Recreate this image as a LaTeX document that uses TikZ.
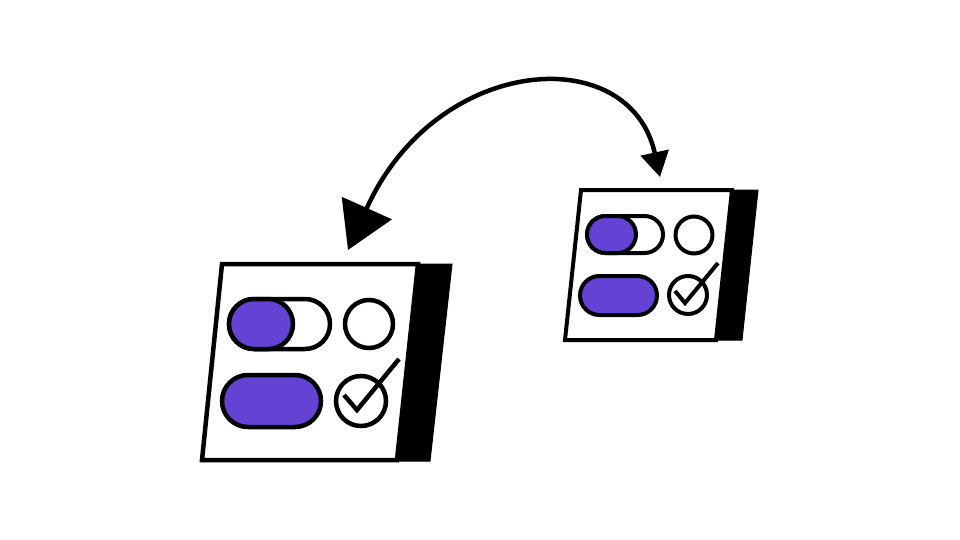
\documentclass[tikz,border=0pt]{standalone}
\usetikzlibrary{arrows.meta}
\definecolor{toggle}{RGB}{99,66,212}
\begin{document}
\begin{tikzpicture}[x=1pt,y=-1pt,
  sideface/.style={fill=black,draw=black,line width=1pt},
  frontface/.style={fill=white,draw=black,line width=4.5pt},
  pill/.style={fill=toggle,draw=black,line width=4.5pt},
  track/.style={fill=white,draw=black,line width=4.5pt},
  tick/.style={draw=black,line width=4.5pt,line join=miter},
  link/.style={draw=black,line width=4.5pt}
]
\useasboundingbox (0,0) rectangle (960,540);

% ---------- large panel ----------
\begin{scope}
\path[sideface] (417,264) -- (452,264) -- (430,461) -- (397,461) -- cycle;
\path[frontface] (222,264) -- (418,264) -- (397,460) -- (202,460) -- cycle;
\path[track,rounded corners=25pt] (229,299) rectangle (330,349);
\path[pill,rounded corners=25pt] (229,299) rectangle (293,349);
\path[track] (369,324) circle[radius=24];
\path[pill,rounded corners=26pt] (222,375) rectangle (321,427);
\path[track] (361,401) circle[radius=25];
\path[tick] (344,395) -- (357,410) -- (399,359);
\end{scope}

% ---------- small panel ----------
\begin{scope}
\path[sideface] (731,190) -- (758,190) -- (742,340) -- (716,340) -- cycle;
\path[frontface,line width=4pt] (581,190) -- (732,190) -- (716,340) -- (565,340) -- cycle;
\path[track,line width=4pt,rounded corners=18.5pt] (587,216) rectangle (663,253);
\path[pill,line width=4pt,rounded corners=18.5pt] (587,216) rectangle (636,253);
\path[track,line width=4pt] (694,235) circle[radius=18.5];
\path[pill,line width=4pt,rounded corners=19.5pt] (580,276) rectangle (657,315);
\path[track,line width=4pt] (688,295) circle[radius=19];
\path[tick,line width=4pt] (675,291) -- (685,303) -- (718,263);
\end{scope}

% ---------- connector ----------
\coordinate (tipL) at (348,250);
\coordinate (tipR) at (660,177);
\draw[link,{Triangle[length=46pt,width=54pt]}-{Triangle[length=25pt,width=28pt]}]
  (tipL) .. controls (436,54) and (630,40) .. (tipR);
\end{tikzpicture}
\end{document}
